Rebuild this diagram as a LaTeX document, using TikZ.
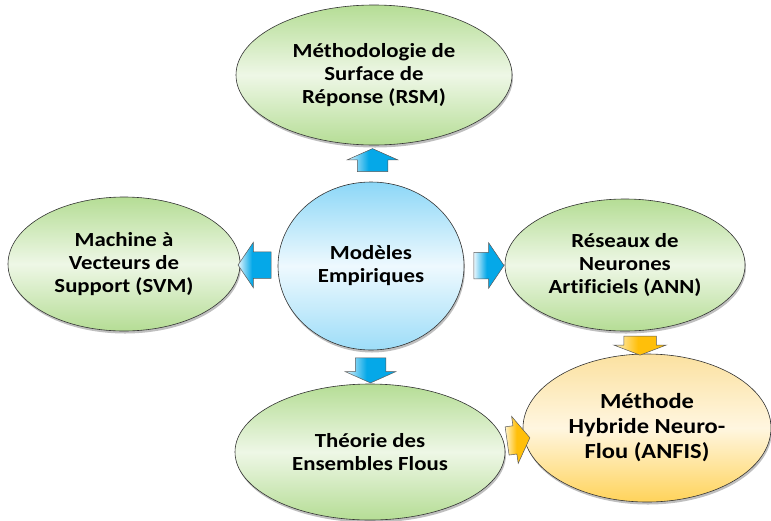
\documentclass[tikz,border=0pt]{standalone}
\usepackage{fontspec}
\setmainfont{Carlito}[FakeStretch=1.14,Ligatures={NoCommon}]
\usetikzlibrary{shapes.geometric,shapes.arrows,shadows,calc}
\definecolor{gr}{HTML}{B5DD95}
\definecolor{grl}{HTML}{EEF7E6}
\definecolor{bl}{HTML}{8CD7F7}
\definecolor{blm}{HTML}{EEF9FE}
\definecolor{blh}{HTML}{05A8E8}
\definecolor{bll}{HTML}{E6F6FD}
\definecolor{orb}{HTML}{FFD35A}
\definecolor{ort}{HTML}{FBE1A0}
\definecolor{orm}{HTML}{FFF6E0}
\definecolor{orh}{HTML}{FFBF0A}
\definecolor{orl}{HTML}{FFF3CC}
\pgfdeclarehorizontalshading{bluearrowsh}{100bp}{color(0bp)=(bll); color(25bp)=(bll); color(46bp)=(blh); color(100bp)=(blh)}
\pgfdeclarehorizontalshading{orangearrowsh}{100bp}{color(0bp)=(orl); color(25bp)=(orl); color(48bp)=(orh); color(100bp)=(orh)}
\begin{document}
\begin{tikzpicture}[x=1pt,y=-1pt,
  oval/.style={ellipse,draw=black!80,line width=0.6pt,inner sep=0pt,align=center,
    font=\fontsize{20}{23}\selectfont\bfseries,
    drop shadow={shadow xshift=1pt,shadow yshift=-2.5pt,opacity=0.25,fill=black}},
  greenoval/.style={oval,top color=gr,bottom color=gr,middle color=grl},
  blockarrow/.style={single arrow,draw=black!65,line width=0.5pt,inner xsep=0pt,
    minimum width=0pt,single arrow head indent=0pt},
  bluearrow/.style={blockarrow,shading=bluearrowsh},
  orangearrow/.style={blockarrow,shading=orangearrowsh}]
\useasboundingbox (0,0) rectangle (771,520);
\fill[white] (0,0) rectangle (771,520);

\node[greenoval,minimum width=276pt,minimum height=140pt] (rsm) at (374,75)
  {Méthodologie de\\Surface de\\Réponse (RSM)};
\node[greenoval,minimum width=232pt,minimum height=134pt] (svm) at (124,264)
  {Machine à\\Vecteurs de\\Support (SVM)};
\node[greenoval,minimum width=240pt,minimum height=132pt] (ann) at (625,265)
  {Réseaux de\\Neurones\\Artificiels (ANN)};
\node[greenoval,minimum width=270pt,minimum height=136pt] (fuzzy) at (370,452)
  {Théorie des\\Ensembles Flous};
\node[oval,top color=bl,bottom color=bl!85!white,middle color=blm,
  minimum width=186pt,minimum height=168pt] (emp) at (371,266)
  {Modèles\\Empiriques};
\node[oval,top color=ort,bottom color=orb,middle color=orm,
  minimum width=248pt,minimum height=148pt,
  font=\fontsize{21.5}{25}\selectfont\bfseries] (anfis) at (647,428)
  {Méthode\\Hybride Neuro-\\Flou (ANFIS)};

\node[bluearrow,rotate=90,minimum height=23pt,inner ysep=15pt,
  single arrow head extend=10pt,single arrow tip angle=132] (a1)
  at ($(emp.north)!0.5!(rsm.south)$) {};
\node[bluearrow,rotate=-90,minimum height=25pt,inner ysep=15pt,
  single arrow head extend=10pt,single arrow tip angle=132] (a2)
  at ($(emp.south)!0.5!(fuzzy.north)$) {};
\node[bluearrow,rotate=180,minimum height=33pt,inner ysep=13pt,
  single arrow head extend=9.5pt,single arrow tip angle=112] (a3)
  at ($(emp.west)!0.5!(svm.east)$) {};
\node[bluearrow,minimum height=30pt,inner ysep=13pt,
  single arrow head extend=9.5pt,single arrow tip angle=112] (a4)
  at ($(emp.east)!0.5!(ann.west)$) {};
\node[orangearrow,rotate=-90,minimum height=19pt,inner ysep=16pt,
  single arrow head extend=10pt,single arrow tip angle=138] (a5)
  at ($(ann.south)!0.5!(anfis.north)+(4,0)$) {};
\node[orangearrow,rotate=8,minimum height=23pt,inner ysep=14pt,
  single arrow head extend=9.5pt,single arrow tip angle=115] (a6)
  at ($(fuzzy.east)!0.5!(anfis.west)$) {};
\end{tikzpicture}
\end{document}
